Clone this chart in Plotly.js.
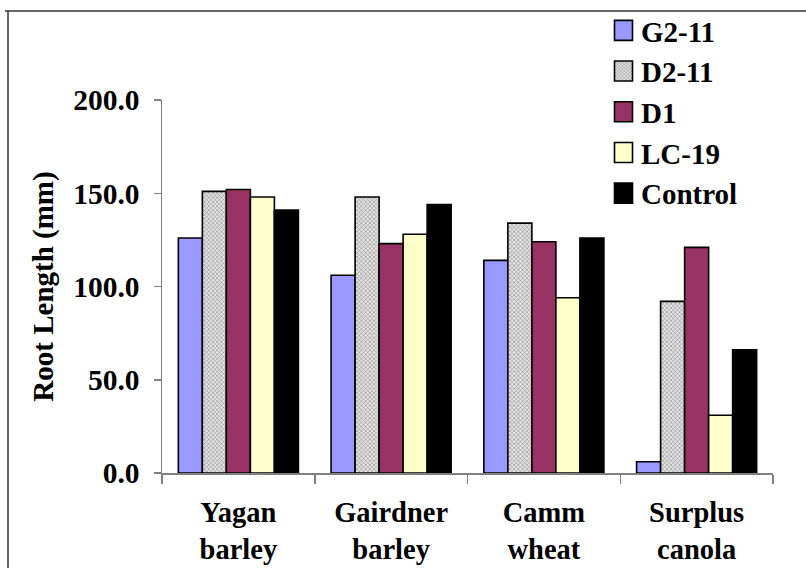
<!DOCTYPE html>
<html>
<head>
<meta charset="utf-8">
<script src="https://cdn.plot.ly/plotly-3.0.1.min.js"></script>
<style>
  html, body { margin: 0; padding: 0; background: #fff; }
  #chart { width: 806px; height: 568px; }
  #chart svg text { font-family: "Liberation Serif", "Times New Roman", serif !important; }
</style>
</head>
<body>
<div id="chart"></div>
<script>
// Root length by crop and treatment
const categories = ['Yagan<br>barley', 'Gairdner<br>barley', 'Camm<br>wheat', 'Surplus<br>canola'];
const seriesNames = ['G2-11', 'D2-11', 'D1', 'LC-19', 'Control'];
const g2_11   = [126, 106, 114, 6];
const d2_11   = [151, 148, 134, 92];
const d1      = [152, 123, 124, 121];
const lc_19   = [148, 128, 94, 31];
const control = [141, 144, 126, 66];
const yTickVals = [0, 50, 100, 150, 200];

const seriesValues = [g2_11, d2_11, d1, lc_19, control];
const fills = ['#9999FF', '#d4d4d4', '#993366', '#FFFFCC', '#000000'];

const W = 806, H = 568;
const M = { l: 162, r: 33, t: 100, b: 95, autoexpand: false };
const FONT = 'Liberation Serif';

const traces = seriesNames.map((name, i) => {
  const marker = { color: fills[i], line: { color: '#000', width: 1.6 } };
  if (name === 'D2-11') {
    marker.pattern = { shape: 'x', size: 3, solidity: 0.35, fgcolor: '#8c8c8c', bgcolor: '#e2e2e2', fillmode: 'replace' };
  }
  return { type: 'bar', name: name, x: categories, y: seriesValues[i], marker: marker, hoverinfo: 'skip' };
});

// frame lines along the top and left edge of the figure
const px2x = p => (p - M.l) / (W - M.l - M.r);
const px2y = p => (H - M.b - p) / (H - M.t - M.b);
const frame = { color: '#333', width: 1.5 };
const shapes = [
  { type: 'line', xref: 'paper', yref: 'paper', x0: px2x(5), x1: px2x(806), y0: px2y(11), y1: px2y(11), line: frame },
  { type: 'line', xref: 'paper', yref: 'paper', x0: px2x(8), x1: px2x(8), y0: px2y(11), y1: px2y(568), line: frame }
];

const boldFont = size => ({ family: FONT, size: size, color: '#000', weight: 'bold' });

const layout = {
  width: W, height: H,
  margin: M,
  paper_bgcolor: '#fff', plot_bgcolor: '#fff',
  font: boldFont(29),
  barmode: 'group',
  bargap: 0.214,
  bargroupgap: 0,
  showlegend: true,
  legend: {
    x: px2x(601), y: px2y(5), xanchor: 'left', yanchor: 'top',
    font: boldFont(29),
    bgcolor: 'rgba(0,0,0,0)', borderwidth: 0,
    traceorder: 'normal', itemclick: false
  },
  xaxis: {
    type: 'category', range: [-0.5, 3.5],
    showline: true, linecolor: '#808080', linewidth: 1.5,
    ticks: 'outside', tickson: 'boundaries', ticklen: 9, tickcolor: '#808080', tickwidth: 1.5,
    showgrid: false, zeroline: false,
    tickfont: boldFont(28.5),
    ticklabelstandoff: 13
  },
  yaxis: {
    range: [0, 200], tickvals: yTickVals, tickformat: '.1f',
    showline: true, linecolor: '#808080', linewidth: 1.5,
    ticks: 'outside', ticklen: 7, tickcolor: '#808080', tickwidth: 1.5,
    showgrid: false, zeroline: false,
    tickfont: boldFont(29.5),
    ticklabelstandoff: 8,
    title: { text: 'Root Length (mm)', font: boldFont(29), standoff: 11 }
  },
  shapes: shapes
};

Plotly.newPlot('chart', traces, layout, { staticPlot: true, displayModeBar: false }).then(() => {
  // square swatches in the key, sized like the boxes of the original key
  document.querySelectorAll('.legend .legendpoints path').forEach(p => {
    p.setAttribute('d', 'M11.5,10H-6.5V-10H11.5Z');
    p.style.strokeWidth = '1.6px';
  });
});
</script>
</body>
</html>
